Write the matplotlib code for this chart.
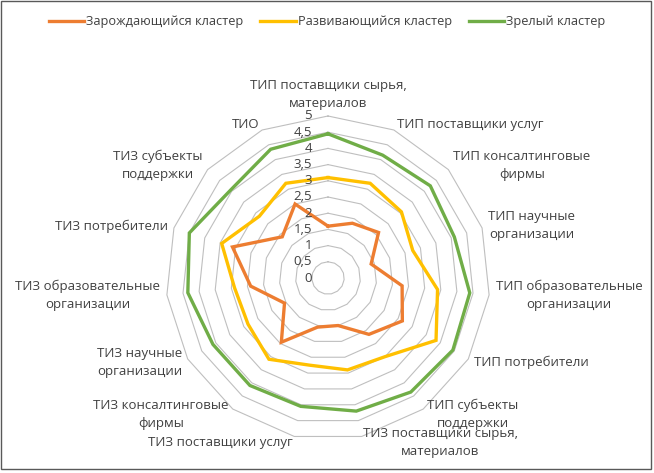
import numpy as np
import matplotlib

matplotlib.use("Agg")
import matplotlib.pyplot as plt
from matplotlib.patches import Rectangle

plt.rcParams['font.family'] = ['Open Sans', 'DejaVu Sans']

# categories, clockwise from the top
categories = [
    "ТИП поставщики сырья,\nматериалов",
    "ТИП поставщики услуг",
    "ТИП консалтинговые\nфирмы",
    "ТИП научные\nорганизации",
    "ТИП образовательные\nорганизации",
    "ТИП потребители",
    "ТИП субъекты\nподдержки",
    "ТИЗ поставщики сырья,\nматериалов",
    "ТИЗ поставщики услуг",
    "ТИЗ консалтинговые\nфирмы",
    "ТИЗ научные\nорганизации",
    "ТИЗ образовательные\nорганизации",
    "ТИЗ потребители",
    "ТИЗ субъекты\nподдержки",
    "ТИО",
]

emerging = [1.6, 1.85, 2.1, 1.4, 2.3, 2.65, 2.15, 1.5, 1.55, 2.45, 1.55, 2.4, 3.1, 1.9, 2.5]
developing = [3.1, 3.2, 3.05, 2.75, 3.4, 3.85, 3.0, 2.9, 2.75, 3.1, 2.85, 2.9, 3.45, 2.85, 3.2]
mature = [4.45, 4.15, 4.25, 4.1, 4.4, 4.45, 4.35, 4.2, 4.05, 4.1, 4.1, 4.35, 4.5, 4.05, 4.35]

series_names = ["Зарождающийся кластер", "Развивающийся кластер", "Зрелый кластер"]
ticks = [0, 0.5, 1, 1.5, 2, 2.5, 3, 3.5, 4, 4.5, 5]
tick_labels = ["0", "0,5", "1", "1,5", "2", "2,5", "3", "3,5", "4", "4,5", "5"]

colors = ["#ED7D31", "#FFC000", "#70AD47"]
text_color = "#404040"

W, H = 654, 473
cx, cy = 328, 278      # centre in pixels
unit = 32.4            # pixels per value unit

fig = plt.figure(figsize=(W / 100, H / 100), dpi=100)
ax = fig.add_axes([0, 0, 1, 1])
ax.set_xlim(-cx / unit, (W - cx) / unit)
ax.set_ylim(-(H - cy) / unit, cy / unit)
ax.axis("off")

n = len(categories)
phi = np.arange(n) * 2 * np.pi / n
sx, sy = np.sin(phi), np.cos(phi)


def closed(a):
    return np.append(a, a[0])


# grid polygons
for t in ticks[1:]:
    ax.plot(closed(t * sx), closed(t * sy), color="#BFBFBF", lw=0.8, zorder=1)

# series
for vals, name, c in zip([emerging, developing, mature], series_names, colors):
    v = np.array(vals)
    ax.plot(closed(v * sx), closed(v * sy), color=c, lw=2.4, label=name,
            solid_joinstyle="miter", zorder=3)

# value labels on the top axis
for t, lab in zip(ticks, tick_labels):
    ax.text(-0.5, t, lab, ha="right", va="center", fontsize=9.5,
            color=text_color, zorder=4)

# category labels
r_lab = 5.2
for i, lab in enumerate(categories):
    x, y = r_lab * sx[i], r_lab * sy[i]
    if i == 0:
        ha, va = "center", "bottom"
    elif sx[i] > 0:
        ha, va = "left", "center"
    else:
        ha, va = "right", "center"
    ax.text(x, y, lab, ha=ha, va=va, fontsize=9.5, color=text_color,
            multialignment="center", linespacing=1.5, zorder=4)

fig.legend(loc="center", bbox_to_anchor=(0.5, 1 - 22 / H), ncol=3,
           frameon=False, fontsize=9.2, handlelength=2.8, handletextpad=0.15,
           columnspacing=1.3, labelcolor=text_color)

fig.patches.append(Rectangle((1 / W, 4 / H), 650 / W, 468 / H,
                             transform=fig.transFigure, fill=False,
                             edgecolor="#595959", lw=1))

fig.savefig("out.png", dpi=100, facecolor="white")
